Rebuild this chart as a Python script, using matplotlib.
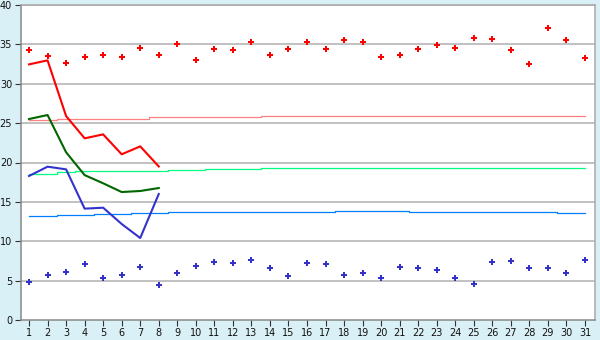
import matplotlib
matplotlib.use("Agg")
import matplotlib.pyplot as plt

days = list(range(1, 32))

high_pts = [34.25, 33.5, 32.6, 33.35, 33.7, 33.35, 34.5, 33.7, 35.05, 32.97,
            34.37, 34.25, 35.25, 33.6, 34.37, 35.25, 34.37, 35.6, 35.25, 33.35,
            33.6, 34.37, 34.87, 34.5, 35.76, 35.64, 34.25, 32.46, 37.03, 35.5, 33.22]
low_pts = [4.78, 5.67, 6.05, 7.07, 5.29, 5.67, 6.69, 4.4, 5.92, 6.81,
           7.32, 7.19, 7.57, 6.56, 5.54, 7.19, 7.06, 5.67, 5.92, 5.29,
           6.69, 6.56, 6.3, 5.29, 4.52, 7.32, 7.44, 6.56, 6.56, 5.92, 7.57]

line_days = [1, 2, 3, 4, 5, 6, 7, 8]
red_line = [32.46, 32.97, 25.9, 23.07, 23.57, 21.04, 22.05, 19.5]
green_line = [25.52, 26.03, 21.3, 18.4, 17.36, 16.25, 16.38, 16.76]
blue_line = [18.29, 19.47, 19.13, 14.14, 14.26, 12.19, 10.41, 16.0]

pink_avg = [25.35] * 2 + [25.52] * 5 + [25.78] * 6 + [25.9] * 18
lgreen_avg = [18.58] * 2 + [18.75] * 1 + [18.88] * 5 + [19.0] * 2 + [19.13] * 3 + [19.26] * 18
lblue_avg = [13.16] * 2 + [13.29] * 2 + [13.42] * 2 + [13.55] * 2 + [13.67] * 9 + [13.8] * 4 + [13.67] * 8 + [13.55] * 2

yticks = [0, 5, 10, 15, 20, 25, 30, 35, 40]

fig = plt.figure(figsize=(6, 3.4), dpi=100, facecolor="#daf0f7")
ax = fig.add_axes([20.5 / 600, 20 / 340, 574.5 / 600, 315 / 340])
ax.set_facecolor("white")

for y in yticks[1:]:
    ax.axhline(y, color="#b0b0b0", lw=1.1, zorder=0)

ax.plot(days, pink_avg, color="#ff8080", lw=0.9, drawstyle="steps-mid", zorder=2)
ax.plot(days, lgreen_avg, color="#00ff80", lw=0.9, drawstyle="steps-mid", zorder=2)
ax.plot(days, lblue_avg, color="#0080ff", lw=0.9, drawstyle="steps-mid", zorder=2)

ax.plot(line_days, red_line, color="#ff0000", lw=1.5, zorder=3)
ax.plot(line_days, green_line, color="#006600", lw=1.5, zorder=3)
ax.plot(line_days, blue_line, color="#3333cc", lw=1.5, zorder=3)

ax.plot(days, high_pts, ls="none", marker="P", ms=4.2, color="#ff0000",
        markeredgewidth=0, zorder=4)
ax.plot(days, low_pts, ls="none", marker="P", ms=4.2, color="#3333cc",
        markeredgewidth=0, zorder=4)

ax.set_xlim(0.54, 31.54)
ax.set_ylim(0, 40)
ax.set_xticks(days)
ax.set_xticklabels([str(d) for d in days])
ax.set_yticks(yticks)
ax.set_yticklabels([str(v) for v in yticks])
ax.tick_params(axis="both", labelsize=7, length=4, width=0.8, color="#333333",
               labelcolor="#111111", pad=2)
for s in ax.spines.values():
    s.set_color("#a8a8a8")
    s.set_linewidth(1.1)
ax.spines["left"].set_color("#888888")
ax.spines["bottom"].set_color("#888888")

fig.savefig("out.png", dpi=100, facecolor=fig.get_facecolor())
